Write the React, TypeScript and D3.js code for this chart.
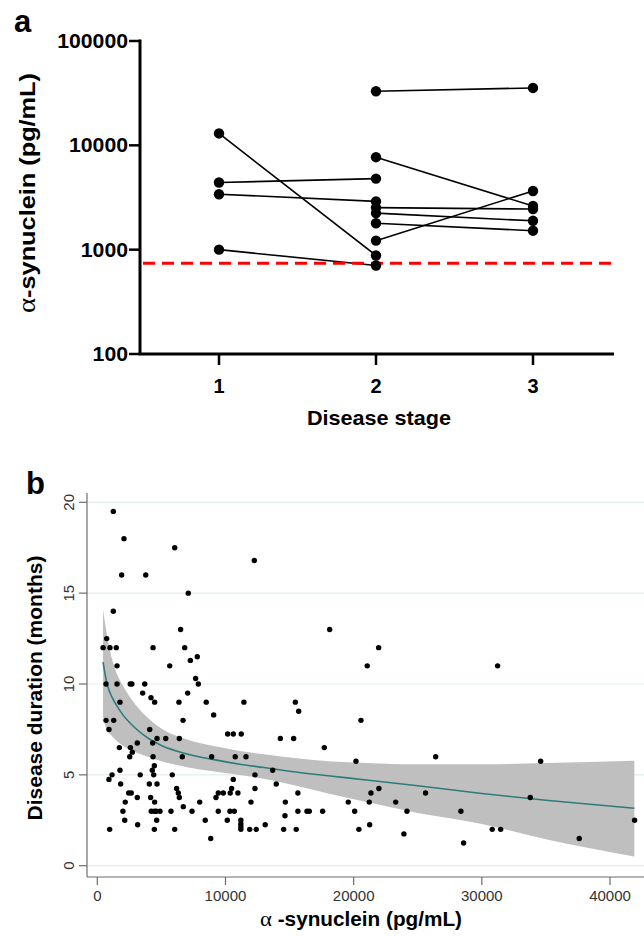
import React from 'react'
import * as d3 from 'd3'

// ---- panel a: paired alpha-synuclein values by disease stage ----
const stages = [1, 2, 3]
const yTicksA = [100, 1000, 10000, 100000]
const detectionLimit = 740

// [stage from, value from, stage to, value to]
const pairedSamples: [number, number, number, number][] = [
  [1, 13000, 2, 880],
  [1, 4400, 2, 4800],
  [1, 3400, 2, 2900],
  [1, 1000, 2, 705],
  [2, 33000, 3, 35500],
  [2, 7700, 3, 2620],
  [2, 2530, 3, 2450],
  [2, 2240, 3, 1890],
  [2, 1790, 3, 1520],
  [2, 1220, 3, 3650],
]

// ---- panel b: disease duration vs alpha-synuclein ----
const xTicksB = [0, 10000, 20000, 30000, 40000]
const yTicksB = [0, 5, 10, 15, 20]

// [alpha-synuclein pg/mL, duration months]
const scatterPoints: [number, number][] = [
  [1250, 19.5], [2080, 18.0], [1900, 16.0], [3780, 16.0], [6040, 17.5],
  [12250, 16.8], [7100, 15.0], [1250, 14.0], [18130, 13.0], [6500, 13.0],
  [730, 12.5], [450, 12.0], [990, 12.0], [1480, 12.0], [4350, 12.0],
  [6820, 12.0], [21950, 12.0], [7800, 11.5], [7260, 11.3], [5650, 11.0],
  [1540, 11.0], [21060, 11.0], [31230, 11.0], [680, 10.0], [1540, 10.0],
  [2570, 10.0], [2700, 10.0], [3700, 10.0], [7670, 10.3], [7880, 10.0],
  [3540, 9.5], [4190, 9.25], [7050, 9.5], [4475, 9.0], [1770, 9.0],
  [6370, 9.0], [8500, 9.0], [11440, 9.0], [15450, 9.0], [15710, 8.5],
  [9080, 8.3], [680, 8.0], [1280, 8.0], [6690, 8.0], [20570, 8.0],
  [910, 7.5], [4090, 7.5], [10170, 7.25], [10610, 7.25], [11230, 7.25],
  [4320, 6.75], [4660, 7.0], [5340, 7.0], [6400, 7.0], [14280, 7.0],
  [15320, 7.0], [3120, 6.75], [1720, 6.5], [2580, 6.5], [17710, 6.5],
  [2730, 6.25], [2530, 6.0], [4350, 6.0], [6630, 6.0], [8920, 6.0],
  [10760, 6.0], [11600, 6.0], [26400, 6.0], [20180, 5.75], [34590, 5.75],
  [1770, 5.25], [4290, 5.25], [4450, 5.5], [13680, 5.25], [1150, 5.0],
  [910, 4.75], [3350, 5.0], [4400, 5.0], [5850, 5.0], [10610, 4.75],
  [12300, 5.0], [1820, 4.5], [4060, 4.5], [4660, 4.5], [13960, 4.5],
  [12300, 4.25], [6190, 4.25], [2450, 4.0], [2650, 4.0], [6320, 4.0],
  [9440, 4.0], [9830, 4.0], [10370, 4.0], [10970, 4.0], [10480, 4.25],
  [15650, 4.0], [21350, 4.0], [21970, 4.25], [25610, 4.0], [33780, 3.75],
  [3120, 3.75], [4160, 3.75], [6400, 3.75], [9260, 3.75], [2180, 3.5],
  [4475, 3.5], [7990, 3.5], [11990, 3.5], [14670, 3.5], [19580, 3.5],
  [21220, 3.5], [23280, 3.5], [6710, 3.25], [2000, 3.0], [4210, 3.0],
  [4450, 3.0], [4600, 3.0], [4890, 3.0], [5750, 3.0], [7390, 3.0],
  [9440, 3.0], [10350, 3.0], [10690, 3.0], [15650, 3.0], [16360, 3.0],
  [16540, 3.0], [17580, 3.0], [20080, 3.0], [24160, 3.0], [28370, 3.0],
  [11200, 2.5], [11200, 2.3], [11200, 2.15], [11200, 2.0], [2140, 2.5],
  [3150, 2.25], [4630, 2.5], [8420, 2.5], [10140, 2.5], [14640, 2.75],
  [13100, 2.25], [965, 2.0], [4450, 2.0], [6040, 2.0], [11890, 2.0],
  [12400, 2.0], [14540, 2.0], [15520, 2.0], [8850, 1.5], [41920, 2.5],
  [21250, 2.25], [20410, 2.0], [23920, 1.75], [30810, 2.0], [31470, 2.0],
  [37600, 1.5], [28580, 1.25],
]

// fitted curve and its confidence band
const fitX = [450, 730, 1000, 1400, 2000, 3000, 4000, 5000, 7000, 9000, 11000, 13000, 15000, 18000, 21000, 25000, 30000, 35000, 41900]
const fitY = [11.2, 10.1, 9.5, 8.95, 8.3, 7.55, 7.0, 6.62, 6.15, 5.85, 5.6, 5.4, 5.2, 4.95, 4.72, 4.4, 3.97, 3.6, 3.16]
const bandLower = [8.2, 7.5, 7.25, 6.95, 6.6, 6.25, 5.98, 5.75, 5.42, 5.2, 5.0, 4.78, 4.48, 3.97, 3.5, 2.9, 2.3, 1.45, 0.5]
const bandUpper = [14.1, 12.8, 11.8, 10.8, 9.9, 8.85, 8.1, 7.55, 6.95, 6.6, 6.33, 6.13, 5.95, 5.75, 5.65, 5.58, 5.58, 5.65, 5.78]

const sans = '"Liberation Sans", Arial, Helvetica, sans-serif'
const greek = '"Liberation Serif", "DejaVu Serif", serif'

const PanelA = () => {
  const x = d3.scaleLinear().domain([1, 3]).range([219, 533])
  const y = d3.scaleLog().domain([100, 100000]).range([354, 41])
  const axisLeft = 140
  const axisRight = 614

  return (
    <g>
      <text x={14} y={32} fontFamily={sans} fontWeight="bold" fontSize={31}>a</text>

      {/* y axis */}
      <line x1={axisLeft} x2={axisLeft} y1={y(100000) - 1.5} y2={y(100)} stroke="#000" strokeWidth={3} />
      {yTicksA.map(t => (
        <g key={t} transform={`translate(0,${y(t)})`}>
          <line x1={axisLeft - 11} x2={axisLeft} stroke="#000" strokeWidth={2.5} />
          <text x={axisLeft - 12} dy="0.35em" textAnchor="end" fontFamily={sans} fontWeight="bold" fontSize={20}
            textLength={String(t).length * 11.8} lengthAdjust="spacingAndGlyphs">
            {t}
          </text>
        </g>
      ))}

      {/* x axis */}
      <line x1={axisLeft - 1.5} x2={axisRight} y1={y(100)} y2={y(100)} stroke="#000" strokeWidth={3} />
      {stages.map(s => (
        <g key={s} transform={`translate(${x(s)},${y(100)})`}>
          <line y1={0} y2={11} stroke="#000" strokeWidth={2.5} />
          <text y={39} textAnchor="middle" fontFamily={sans} fontWeight="bold" fontSize={20}>{s}</text>
        </g>
      ))}

      <text x={379} y={425} textAnchor="middle" fontFamily={sans} fontWeight="bold" fontSize={21}
        textLength={144} lengthAdjust="spacingAndGlyphs">
        Disease stage
      </text>
      <text transform="translate(35,193) rotate(-90)" textAnchor="middle" fontFamily={sans} fontWeight="bold" fontSize={22}
        textLength={240} lengthAdjust="spacingAndGlyphs">
        <tspan fontFamily={greek} fontWeight="normal" fontSize={25}>α</tspan>-synuclein (pg/mL)
      </text>

      {/* paired lines */}
      {pairedSamples.map((p, i) => (
        <line key={i} x1={x(p[0])} y1={y(p[1])} x2={x(p[2])} y2={y(p[3])} stroke="#000" strokeWidth={1.6} />
      ))}

      {/* limit of detection */}
      <line x1={axisLeft + 3} x2={axisRight} y1={y(detectionLimit)} y2={y(detectionLimit)}
        stroke="#ff0000" strokeWidth={3} strokeDasharray="12,7" />

      {pairedSamples.map((p, i) => (
        <g key={'d' + i}>
          <circle cx={x(p[0])} cy={y(p[1])} r={5.2} fill="#000" />
          <circle cx={x(p[2])} cy={y(p[3])} r={5.2} fill="#000" />
        </g>
      ))}
    </g>
  )
}

const PanelB = () => {
  const x = d3.scaleLinear().domain([0, 40000]).range([97.3, 610])
  const y = d3.scaleLinear().domain([0, 20]).range([865.7, 502.3])
  const left = 87
  const right = 644
  const bottom = 877
  const top = 493

  const band = d3.area<number>()
    .x((_, i) => x(fitX[i]))
    .y0((_, i) => y(bandLower[i]))
    .y1((_, i) => y(bandUpper[i]))
    .curve(d3.curveMonotoneX)
  const fit = d3.line<number>()
    .x((_, i) => x(fitX[i]))
    .y(d => y(d))
    .curve(d3.curveMonotoneX)

  return (
    <g>
      <text x={26} y={494} fontFamily={sans} fontWeight="bold" fontSize={31}>b</text>

      {/* grid */}
      {yTicksB.map(t => (
        <line key={t} x1={left} x2={right} y1={y(t)} y2={y(t)} stroke="#e3edf0" strokeWidth={1.2} />
      ))}

      <path d={band(fitX) || ''} fill="#bfbfbf" />
      <path d={fit(fitY) || ''} fill="none" stroke="#2c7c78" strokeWidth={1.6} />

      {scatterPoints.map((p, i) => (
        <circle key={i} cx={x(p[0])} cy={y(p[1])} r={2.7} fill="#000" />
      ))}

      {/* axes */}
      <line x1={left} x2={left} y1={top} y2={bottom} stroke="#6d6d6d" strokeWidth={1.2} />
      <line x1={left} x2={right} y1={bottom} y2={bottom} stroke="#6d6d6d" strokeWidth={1.2} />
      {yTicksB.map(t => (
        <g key={t} transform={`translate(${left},${y(t)})`}>
          <line x1={-8} x2={0} stroke="#6d6d6d" strokeWidth={1.2} />
          <text transform="translate(-13,0) rotate(-90)" textAnchor="middle" fontFamily={sans} fontSize={15} fill="#333">
            {t}
          </text>
        </g>
      ))}
      {xTicksB.map(t => (
        <g key={t} transform={`translate(${x(t)},${bottom})`}>
          <line y1={0} y2={8} stroke="#6d6d6d" strokeWidth={1.2} />
          <text y={24} textAnchor="middle" fontFamily={sans} fontSize={15} fill="#333">{t}</text>
        </g>
      ))}

      <text x={361} y={926} textAnchor="middle" fontFamily={sans} fontWeight="bold" fontSize={20}
        textLength={202} lengthAdjust="spacingAndGlyphs">
        <tspan fontFamily={greek} fontWeight="normal" fontSize={22}>α</tspan> -synuclein (pg/mL)
      </text>
      <text transform="translate(42,688) rotate(-90)" textAnchor="middle" fontFamily={sans} fontWeight="bold" fontSize={21}>
        Disease duration (months)
      </text>
    </g>
  )
}

export default function App() {
  return (
    <div style={{ position: 'absolute', left: 0, top: 0 }}>
      <svg width={644} height={936} style={{ display: 'block', background: '#fff' }}>
        <PanelA />
        <PanelB />
      </svg>
    </div>
  )
}
